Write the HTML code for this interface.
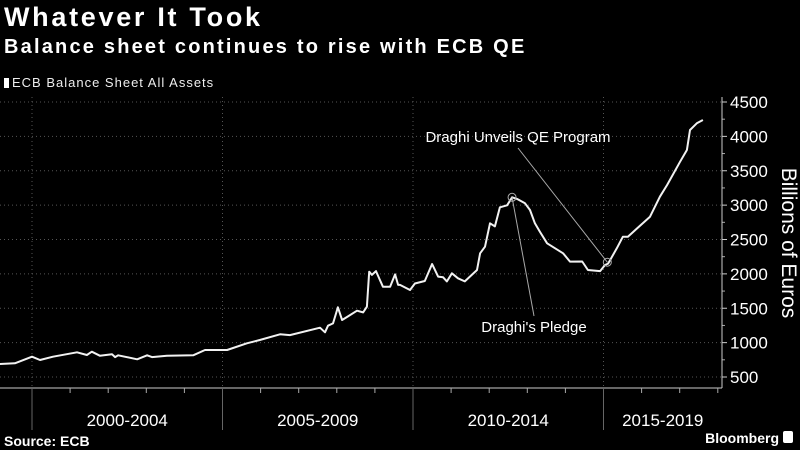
<!DOCTYPE html>
<html><head><meta charset="utf-8">
<style>
html,body{margin:0;padding:0;background:#000;}
body{width:800px;height:450px;overflow:hidden;position:relative;font-family:"Liberation Sans",sans-serif;color:#fff;}
#title{position:absolute;left:4px;top:2px;font-size:27px;font-weight:bold;letter-spacing:2.7px;}
#subtitle{position:absolute;left:4px;top:36px;font-size:20px;font-weight:bold;letter-spacing:2.2px;}
#legend{position:absolute;left:4px;top:75px;font-size:13px;color:#eee;letter-spacing:1px;}
#legend span.sw{display:inline-block;width:5px;height:10px;background:#fff;margin-right:3px;vertical-align:-1px;}
svg{position:absolute;left:0;top:0;}
</style></head>
<body>
<div id="title">Whatever It Took</div>
<div id="subtitle">Balance sheet continues to rise with ECB QE</div>
<div id="legend"><span class="sw"></span>ECB Balance Sheet All Assets</div>
<svg id="chart" width="800" height="450"></svg>
<script>
const years = [1999.16,1999.55,2000.0,2000.21,2000.55,2001.18,2001.44,2001.57,2001.78,2002.1,2002.18,2002.26,2002.76,2003.02,2003.15,2003.54,2004.23,2004.54,2005.12,2005.64,2005.98,2006.51,2006.77,2007.56,2007.69,2007.77,2007.9,2008.03,2008.14,2008.29,2008.53,2008.69,2008.79,2008.85,2008.92,2009.03,2009.21,2009.4,2009.53,2009.61,2009.66,2009.92,2010.05,2010.31,2010.5,2010.66,2010.79,2010.89,2011.02,2011.18,2011.36,2011.68,2011.76,2011.89,2012.02,2012.15,2012.28,2012.47,2012.6,2012.73,2012.94,2013.07,2013.2,2013.33,2013.52,2013.94,2014.12,2014.44,2014.59,2014.91,2015.04,2015.12,2015.35,2015.51,2015.64,2016.22,2016.48,2016.67,2017.01,2017.19,2017.27,2017.45,2017.61];
const assets = [689,700,795,747,795,860,820,868,810,830,790,815,757,815,790,810,815,893,893,990,1038,1121,1110,1217,1150,1246,1280,1514,1329,1380,1465,1440,1523,2032,1985,2040,1814,1814,1993,1840,1840,1765,1860,1896,2144,1960,1950,1890,2008,1935,1890,2056,2299,2395,2735,2690,2968,2998,3114,3090,3027,2929,2735,2614,2445,2299,2178,2180,2056,2040,2129,2150,2372,2541,2541,2832,3123,3293,3632,3802,4093,4190,4238];
const yTicks = [500,1000,1500,2000,2500,3000,3500,4000,4500];
const periodLabels = ["2000-2004","2005-2009","2010-2014","2015-2019"];
const periodStarts = [2000,2005,2010,2015];
const annotations = [
  {label:"Draghi's Pledge", year:2012.6, value:3114, tx:534, ty:332},
  {label:"Draghi Unveils QE Program", year:2015.1, value:2170, tx:518, ty:142}
];

const NS="http://www.w3.org/2000/svg";
const svg=document.getElementById('chart');
const X0=32, YEAR0=2000, PXY=38.1, AXISX=722, BOTTOM=388, TOPY=97;
function xs(y){return X0+(y-YEAR0)*PXY;}
function ys(v){return 102+(4500-v)*0.06875;}
function mk(tag,attrs,parent){const e=document.createElementNS(NS,tag);for(const k in attrs)e.setAttribute(k,attrs[k]);(parent||svg).appendChild(e);return e;}

yTicks.forEach(v=>{
  const g=mk('line',{x1:0,x2:AXISX,y1:ys(v),y2:ys(v),stroke:'#555','stroke-width':1,'stroke-dasharray':'1,3'});
  
  
  const t=mk('line',{x1:AXISX,x2:AXISX+5,y1:ys(v),y2:ys(v),stroke:'#ccc'});
  
  
  const tx=mk('text',{x:AXISX+8,y:ys(v)+6,fill:'#fff','font-size':17,'font-family':'Liberation Sans, sans-serif'});
  tx.textContent=v;
  
  
});
for(let v=750;v<4500;v+=500){
  const t=mk('line',{x1:AXISX,x2:AXISX+3,y1:ys(v),y2:ys(v),stroke:'#aaa'});
  
  
}
const ya=mk('line',{x1:AXISX,x2:AXISX,y1:TOPY,y2:BOTTOM,stroke:'#ccc'});


const xa=mk('line',{x1:0,x2:AXISX,y1:BOTTOM,y2:BOTTOM,stroke:'#ccc'});


for(let y=1999;y<=2018;y++){
  const x=xs(y); if(x<0||x>AXISX) continue;
  const t=mk('line',{x1:x,x2:x,y1:BOTTOM,y2:BOTTOM+5,stroke:'#aaa'});
  
  
}
periodStarts.forEach((p,i)=>{
  const x=xs(p);
  const g=mk('line',{x1:x,x2:x,y1:TOPY,y2:BOTTOM,stroke:'#555','stroke-dasharray':'1,3'});
  
  
  const s=mk('line',{x1:x,x2:x,y1:BOTTOM,y2:430,stroke:'#666'});
  
  
  const xe=Math.min(xs(p+5),AXISX);
  const t=mk('text',{x:(x+xe)/2,y:426,fill:'#fff','font-size':17,'text-anchor':'middle','font-family':'Liberation Sans, sans-serif'});
  t.textContent=periodLabels[i];
  
  
});
const d=years.map((y,i)=>(i?'L':'M')+xs(y).toFixed(1)+','+ys(assets[i]).toFixed(1)).join(' ');
const line=mk('path',{d:d,fill:'none',stroke:'#f2f2f2','stroke-width':2,'stroke-linejoin':'round'});


annotations.forEach(a=>{
  const cx=xs(a.year), cy=ys(a.value);
  const c=mk('circle',{cx:cx,cy:cy,r:4,fill:'none',stroke:'#aaa'});
  
  
  const l=mk('line',{x1:cx,y1:cy,x2:a.tx,y2:a.ty>cy?a.ty-16:a.ty+6,stroke:'#aaa','stroke-width':1});
  
  
  const t=mk('text',{x:a.tx,y:a.ty,fill:'#fff','font-size':15,'text-anchor':'middle','font-family':'Liberation Sans, sans-serif'});
  t.textContent=a.label;
  
  
});
const yt=mk('text',{x:0,y:0,fill:'#fff','font-size':21,'text-anchor':'middle','font-family':'Liberation Sans, sans-serif',transform:'translate(782,243) rotate(90)'});
yt.textContent='Billions of Euros';


const src=mk('text',{x:4,y:446,fill:'#fff','font-size':14,'font-weight':'bold','font-family':'Liberation Sans, sans-serif'});
src.textContent='Source: ECB';


const bb=mk('text',{x:779,y:443,fill:'#fff','font-size':14,'font-weight':'bold','text-anchor':'end','font-family':'Liberation Sans, sans-serif'});
bb.textContent='Bloomberg';


const ic=mk('rect',{x:783,y:431,width:10,height:12,rx:2,fill:'#fff'});


</script>
</body></html>
